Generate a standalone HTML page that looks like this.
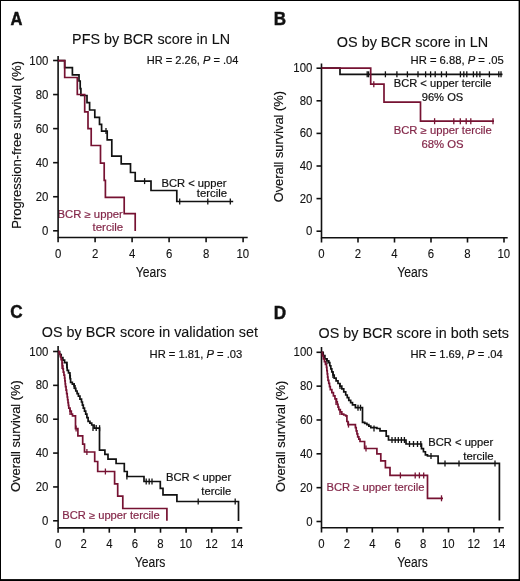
<!DOCTYPE html>
<html><head><meta charset="utf-8"><style>html,body{margin:0;padding:0;background:#fff;width:520px;height:581px;overflow:hidden}text{font-family:"Liberation Sans",sans-serif}</style></head>
<body>
<svg width="520" height="581" viewBox="0 0 520 581" style="display:block;filter:blur(0.3px)">
<rect x="0" y="0" width="520" height="581" fill="#fff"/>
<rect x="0" y="0" width="1.0" height="581" fill="#000"/><rect x="0" y="0" width="520" height="1.0" fill="#000"/><rect x="518.6" y="0" width="1.4" height="581" fill="#000"/><rect x="0" y="579.1" width="520" height="1.9" fill="#000"/>
<g font-family="Liberation Sans, sans-serif">
<text transform="translate(10.39,24.80) scale(0.9348,1)" font-size="17.7" fill="#111111" stroke="#111111" stroke-width="0.45"><tspan font-weight="bold">A</tspan></text>
<text transform="translate(273.86,24.70) scale(0.9635,1)" font-size="17.7" fill="#111111" stroke="#111111" stroke-width="0.45"><tspan font-weight="bold">B</tspan></text>
<text transform="translate(10.20,318.30) scale(0.9679,1)" font-size="17.7" fill="#111111" stroke="#111111" stroke-width="0.45"><tspan font-weight="bold">C</tspan></text>
<text transform="translate(273.75,318.50) scale(0.9674,1)" font-size="17.7" fill="#111111" stroke="#111111" stroke-width="0.45"><tspan font-weight="bold">D</tspan></text>
<text transform="translate(72.12,43.80) scale(0.9835,1)" font-size="14.6" fill="#111111" stroke="#111111" stroke-width="0.12"><tspan>PFS by BCR score in LN</tspan></text>
<text transform="translate(336.82,46.60) scale(0.9880,1)" font-size="14.6" fill="#111111" stroke="#111111" stroke-width="0.12"><tspan>OS by BCR score in LN</tspan></text>
<text transform="translate(41.82,336.90) scale(0.9835,1)" font-size="14.6" fill="#111111" stroke="#111111" stroke-width="0.12"><tspan>OS by BCR score in validation set</tspan></text>
<text transform="translate(318.62,337.70) scale(0.9821,1)" font-size="14.6" fill="#111111" stroke="#111111" stroke-width="0.12"><tspan>OS by BCR score in both sets</tspan></text>
<text transform="translate(146.79,64.10) scale(1.0145,1)" font-size="10.9" fill="#111111" stroke="#111111" stroke-width="0.18"><tspan>HR = 2.26, </tspan><tspan font-style="italic">P</tspan><tspan> = .04</tspan></text>
<text transform="translate(410.58,64.30) scale(1.0319,1)" font-size="10.9" fill="#111111" stroke="#111111" stroke-width="0.18"><tspan>HR = 6.88, </tspan><tspan font-style="italic">P</tspan><tspan> = .05</tspan></text>
<text transform="translate(149.58,358.00) scale(1.0276,1)" font-size="10.9" fill="#111111" stroke="#111111" stroke-width="0.18"><tspan>HR = 1.81, </tspan><tspan font-style="italic">P</tspan><tspan> = .03</tspan></text>
<text transform="translate(410.38,358.00) scale(1.0247,1)" font-size="10.9" fill="#111111" stroke="#111111" stroke-width="0.18"><tspan>HR = 1.69, </tspan><tspan font-style="italic">P</tspan><tspan> = .04</tspan></text>
<text transform="translate(161.48,186.90) scale(1.1189,1)" font-size="10.0" fill="#111111" stroke="#111111" stroke-width="0.18"><tspan>BCR &lt; upper</tspan></text>
<text transform="translate(196.73,197.00) scale(1.1345,1)" font-size="10.0" fill="#111111" stroke="#111111" stroke-width="0.18"><tspan>tercile</tspan></text>
<text transform="translate(57.47,217.70) scale(1.1331,1)" font-size="10.0" fill="#84284a" stroke="#84284a" stroke-width="0.18"><tspan>BCR ≥ upper</tspan></text>
<text transform="translate(92.53,231.00) scale(1.1498,1)" font-size="10.0" fill="#84284a" stroke="#84284a" stroke-width="0.18"><tspan>tercile</tspan></text>
<text transform="translate(393.68,87.30) scale(1.1173,1)" font-size="10.0" fill="#111111" stroke="#111111" stroke-width="0.18"><tspan>BCR &lt; upper tercile</tspan></text>
<text transform="translate(421.68,100.70) scale(1.1178,1)" font-size="10.0" fill="#111111" stroke="#111111" stroke-width="0.18"><tspan>96% OS</tspan></text>
<text transform="translate(393.67,134.10) scale(1.1278,1)" font-size="10.0" fill="#84284a" stroke="#84284a" stroke-width="0.18"><tspan>BCR ≥ upper tercile</tspan></text>
<text transform="translate(421.42,147.50) scale(1.1328,1)" font-size="10.0" fill="#84284a" stroke="#84284a" stroke-width="0.18"><tspan>68% OS</tspan></text>
<text transform="translate(165.98,481.30) scale(1.1259,1)" font-size="10.0" fill="#111111" stroke="#111111" stroke-width="0.18"><tspan>BCR &lt; upper</tspan></text>
<text transform="translate(201.33,495.10) scale(1.1230,1)" font-size="10.0" fill="#111111" stroke="#111111" stroke-width="0.18"><tspan>tercile</tspan></text>
<text transform="translate(62.18,519.40) scale(1.1196,1)" font-size="10.0" fill="#84284a" stroke="#84284a" stroke-width="0.18"><tspan>BCR ≥ upper tercile</tspan></text>
<text transform="translate(428.28,445.90) scale(1.1189,1)" font-size="10.0" fill="#111111" stroke="#111111" stroke-width="0.18"><tspan>BCR &lt; upper</tspan></text>
<text transform="translate(463.33,459.60) scale(1.1345,1)" font-size="10.0" fill="#111111" stroke="#111111" stroke-width="0.18"><tspan>tercile</tspan></text>
<text transform="translate(326.48,491.00) scale(1.1254,1)" font-size="10.0" fill="#84284a" stroke="#84284a" stroke-width="0.18"><tspan>BCR ≥ upper tercile</tspan></text>
<text transform="translate(135.63,277.00) scale(0.8399,1)" font-size="14.5" fill="#111111" stroke="#111111" stroke-width="0.12"><tspan>Years</tspan></text>
<text transform="translate(397.13,277.30) scale(0.8427,1)" font-size="14.5" fill="#111111" stroke="#111111" stroke-width="0.12"><tspan>Years</tspan></text>
<text transform="translate(134.73,567.30) scale(0.8371,1)" font-size="14.5" fill="#111111" stroke="#111111" stroke-width="0.12"><tspan>Years</tspan></text>
<text transform="translate(397.33,567.30) scale(0.8343,1)" font-size="14.5" fill="#111111" stroke="#111111" stroke-width="0.12"><tspan>Years</tspan></text>
<text transform="translate(20.60,228.67) rotate(-90) scale(0.9861,1)" font-size="13.2" fill="#111111" stroke="#111111" stroke-width="0.18"><tspan>Progression-free survival (%)</tspan></text>
<text transform="translate(283.40,202.31) rotate(-90) scale(0.9737,1)" font-size="13.2" fill="#111111" stroke="#111111" stroke-width="0.18"><tspan>Overall survival (%)</tspan></text>
<text transform="translate(20.40,491.91) rotate(-90) scale(0.9772,1)" font-size="13.2" fill="#111111" stroke="#111111" stroke-width="0.18"><tspan>Overall survival (%)</tspan></text>
<text transform="translate(284.70,492.01) rotate(-90) scale(0.9737,1)" font-size="13.2" fill="#111111" stroke="#111111" stroke-width="0.18"><tspan>Overall survival (%)</tspan></text>
<text transform="translate(41.99,234.80) scale(0.950,1)" font-size="12.0" fill="#111111" stroke="#111111" stroke-width="0.1">0</text>
<text transform="translate(35.65,200.74) scale(0.950,1)" font-size="12.0" fill="#111111" stroke="#111111" stroke-width="0.1">20</text>
<text transform="translate(35.65,166.68) scale(0.950,1)" font-size="12.0" fill="#111111" stroke="#111111" stroke-width="0.1">40</text>
<text transform="translate(35.65,132.62) scale(0.950,1)" font-size="12.0" fill="#111111" stroke="#111111" stroke-width="0.1">60</text>
<text transform="translate(35.65,98.56) scale(0.950,1)" font-size="12.0" fill="#111111" stroke="#111111" stroke-width="0.1">80</text>
<text transform="translate(29.32,64.50) scale(0.950,1)" font-size="12.0" fill="#111111" stroke="#111111" stroke-width="0.1">100</text>
<text transform="translate(54.92,257.60) scale(0.950,1)" font-size="12.0" fill="#111111" stroke="#111111" stroke-width="0.1">0</text>
<text transform="translate(91.92,257.60) scale(0.950,1)" font-size="12.0" fill="#111111" stroke="#111111" stroke-width="0.1">2</text>
<text transform="translate(128.96,257.60) scale(0.950,1)" font-size="12.0" fill="#111111" stroke="#111111" stroke-width="0.1">4</text>
<text transform="translate(165.88,257.60) scale(0.950,1)" font-size="12.0" fill="#111111" stroke="#111111" stroke-width="0.1">6</text>
<text transform="translate(202.92,257.60) scale(0.950,1)" font-size="12.0" fill="#111111" stroke="#111111" stroke-width="0.1">8</text>
<text transform="translate(236.54,257.60) scale(0.950,1)" font-size="12.0" fill="#111111" stroke="#111111" stroke-width="0.1">10</text>
<text transform="translate(305.99,235.20) scale(0.950,1)" font-size="12.0" fill="#111111" stroke="#111111" stroke-width="0.1">0</text>
<text transform="translate(299.65,202.60) scale(0.950,1)" font-size="12.0" fill="#111111" stroke="#111111" stroke-width="0.1">20</text>
<text transform="translate(299.65,170.00) scale(0.950,1)" font-size="12.0" fill="#111111" stroke="#111111" stroke-width="0.1">40</text>
<text transform="translate(299.65,137.40) scale(0.950,1)" font-size="12.0" fill="#111111" stroke="#111111" stroke-width="0.1">60</text>
<text transform="translate(299.65,104.80) scale(0.950,1)" font-size="12.0" fill="#111111" stroke="#111111" stroke-width="0.1">80</text>
<text transform="translate(293.32,72.20) scale(0.950,1)" font-size="12.0" fill="#111111" stroke="#111111" stroke-width="0.1">100</text>
<text transform="translate(318.32,257.60) scale(0.950,1)" font-size="12.0" fill="#111111" stroke="#111111" stroke-width="0.1">0</text>
<text transform="translate(354.82,257.60) scale(0.950,1)" font-size="12.0" fill="#111111" stroke="#111111" stroke-width="0.1">2</text>
<text transform="translate(391.36,257.60) scale(0.950,1)" font-size="12.0" fill="#111111" stroke="#111111" stroke-width="0.1">4</text>
<text transform="translate(427.78,257.60) scale(0.950,1)" font-size="12.0" fill="#111111" stroke="#111111" stroke-width="0.1">6</text>
<text transform="translate(464.32,257.60) scale(0.950,1)" font-size="12.0" fill="#111111" stroke="#111111" stroke-width="0.1">8</text>
<text transform="translate(497.44,257.60) scale(0.950,1)" font-size="12.0" fill="#111111" stroke="#111111" stroke-width="0.1">10</text>
<text transform="translate(41.99,524.80) scale(0.950,1)" font-size="12.0" fill="#111111" stroke="#111111" stroke-width="0.1">0</text>
<text transform="translate(35.65,490.94) scale(0.950,1)" font-size="12.0" fill="#111111" stroke="#111111" stroke-width="0.1">20</text>
<text transform="translate(35.65,457.08) scale(0.950,1)" font-size="12.0" fill="#111111" stroke="#111111" stroke-width="0.1">40</text>
<text transform="translate(35.65,423.22) scale(0.950,1)" font-size="12.0" fill="#111111" stroke="#111111" stroke-width="0.1">60</text>
<text transform="translate(35.65,389.36) scale(0.950,1)" font-size="12.0" fill="#111111" stroke="#111111" stroke-width="0.1">80</text>
<text transform="translate(29.32,355.50) scale(0.950,1)" font-size="12.0" fill="#111111" stroke="#111111" stroke-width="0.1">100</text>
<text transform="translate(54.92,547.60) scale(0.950,1)" font-size="12.0" fill="#111111" stroke="#111111" stroke-width="0.1">0</text>
<text transform="translate(80.52,547.60) scale(0.950,1)" font-size="12.0" fill="#111111" stroke="#111111" stroke-width="0.1">2</text>
<text transform="translate(106.16,547.60) scale(0.950,1)" font-size="12.0" fill="#111111" stroke="#111111" stroke-width="0.1">4</text>
<text transform="translate(131.68,547.60) scale(0.950,1)" font-size="12.0" fill="#111111" stroke="#111111" stroke-width="0.1">6</text>
<text transform="translate(157.32,547.60) scale(0.950,1)" font-size="12.0" fill="#111111" stroke="#111111" stroke-width="0.1">8</text>
<text transform="translate(179.54,547.60) scale(0.950,1)" font-size="12.0" fill="#111111" stroke="#111111" stroke-width="0.1">10</text>
<text transform="translate(205.21,547.60) scale(0.950,1)" font-size="12.0" fill="#111111" stroke="#111111" stroke-width="0.1">12</text>
<text transform="translate(230.69,547.60) scale(0.950,1)" font-size="12.0" fill="#111111" stroke="#111111" stroke-width="0.1">14</text>
<text transform="translate(306.29,525.50) scale(0.950,1)" font-size="12.0" fill="#111111" stroke="#111111" stroke-width="0.1">0</text>
<text transform="translate(299.95,491.66) scale(0.950,1)" font-size="12.0" fill="#111111" stroke="#111111" stroke-width="0.1">20</text>
<text transform="translate(299.95,457.82) scale(0.950,1)" font-size="12.0" fill="#111111" stroke="#111111" stroke-width="0.1">40</text>
<text transform="translate(299.95,423.98) scale(0.950,1)" font-size="12.0" fill="#111111" stroke="#111111" stroke-width="0.1">60</text>
<text transform="translate(299.95,390.14) scale(0.950,1)" font-size="12.0" fill="#111111" stroke="#111111" stroke-width="0.1">80</text>
<text transform="translate(293.62,356.30) scale(0.950,1)" font-size="12.0" fill="#111111" stroke="#111111" stroke-width="0.1">100</text>
<text transform="translate(318.32,547.60) scale(0.950,1)" font-size="12.0" fill="#111111" stroke="#111111" stroke-width="0.1">0</text>
<text transform="translate(343.72,547.60) scale(0.950,1)" font-size="12.0" fill="#111111" stroke="#111111" stroke-width="0.1">2</text>
<text transform="translate(369.16,547.60) scale(0.950,1)" font-size="12.0" fill="#111111" stroke="#111111" stroke-width="0.1">4</text>
<text transform="translate(394.48,547.60) scale(0.950,1)" font-size="12.0" fill="#111111" stroke="#111111" stroke-width="0.1">6</text>
<text transform="translate(419.92,547.60) scale(0.950,1)" font-size="12.0" fill="#111111" stroke="#111111" stroke-width="0.1">8</text>
<text transform="translate(441.94,547.60) scale(0.950,1)" font-size="12.0" fill="#111111" stroke="#111111" stroke-width="0.1">10</text>
<text transform="translate(467.41,547.60) scale(0.950,1)" font-size="12.0" fill="#111111" stroke="#111111" stroke-width="0.1">12</text>
<text transform="translate(492.69,547.60) scale(0.950,1)" font-size="12.0" fill="#111111" stroke="#111111" stroke-width="0.1">14</text>
</g>
<path d="M58.10 56.00 V237.50 H247.70" fill="none" stroke="#111111" stroke-width="1.6"/>
<path d="M53.10 230.80 H58.10" stroke="#111111" stroke-width="1.6"/>
<path d="M53.10 196.74 H58.10" stroke="#111111" stroke-width="1.6"/>
<path d="M53.10 162.68 H58.10" stroke="#111111" stroke-width="1.6"/>
<path d="M53.10 128.62 H58.10" stroke="#111111" stroke-width="1.6"/>
<path d="M53.10 94.56 H58.10" stroke="#111111" stroke-width="1.6"/>
<path d="M53.10 60.50 H58.10" stroke="#111111" stroke-width="1.6"/>
<path d="M58.10 237.50 V242.30" stroke="#111111" stroke-width="1.6"/>
<path d="M95.10 237.50 V242.30" stroke="#111111" stroke-width="1.6"/>
<path d="M132.10 237.50 V242.30" stroke="#111111" stroke-width="1.6"/>
<path d="M169.10 237.50 V242.30" stroke="#111111" stroke-width="1.6"/>
<path d="M206.10 237.50 V242.30" stroke="#111111" stroke-width="1.6"/>
<path d="M243.10 237.50 V242.30" stroke="#111111" stroke-width="1.6"/>
<path d="M321.50 63.50 V237.70 H507.70" fill="none" stroke="#111111" stroke-width="1.6"/>
<path d="M316.50 231.20 H321.50" stroke="#111111" stroke-width="1.6"/>
<path d="M316.50 198.60 H321.50" stroke="#111111" stroke-width="1.6"/>
<path d="M316.50 166.00 H321.50" stroke="#111111" stroke-width="1.6"/>
<path d="M316.50 133.40 H321.50" stroke="#111111" stroke-width="1.6"/>
<path d="M316.50 100.80 H321.50" stroke="#111111" stroke-width="1.6"/>
<path d="M316.50 68.20 H321.50" stroke="#111111" stroke-width="1.6"/>
<path d="M321.50 237.70 V242.50" stroke="#111111" stroke-width="1.6"/>
<path d="M358.00 237.70 V242.50" stroke="#111111" stroke-width="1.6"/>
<path d="M394.50 237.70 V242.50" stroke="#111111" stroke-width="1.6"/>
<path d="M431.00 237.70 V242.50" stroke="#111111" stroke-width="1.6"/>
<path d="M467.50 237.70 V242.50" stroke="#111111" stroke-width="1.6"/>
<path d="M504.00 237.70 V242.50" stroke="#111111" stroke-width="1.6"/>
<path d="M58.10 346.00 V527.90 H242.30" fill="none" stroke="#111111" stroke-width="1.6"/>
<path d="M53.10 520.80 H58.10" stroke="#111111" stroke-width="1.6"/>
<path d="M53.10 486.94 H58.10" stroke="#111111" stroke-width="1.6"/>
<path d="M53.10 453.08 H58.10" stroke="#111111" stroke-width="1.6"/>
<path d="M53.10 419.22 H58.10" stroke="#111111" stroke-width="1.6"/>
<path d="M53.10 385.36 H58.10" stroke="#111111" stroke-width="1.6"/>
<path d="M53.10 351.50 H58.10" stroke="#111111" stroke-width="1.6"/>
<path d="M58.10 527.90 V532.70" stroke="#111111" stroke-width="1.6"/>
<path d="M83.70 527.90 V532.70" stroke="#111111" stroke-width="1.6"/>
<path d="M109.30 527.90 V532.70" stroke="#111111" stroke-width="1.6"/>
<path d="M134.90 527.90 V532.70" stroke="#111111" stroke-width="1.6"/>
<path d="M160.50 527.90 V532.70" stroke="#111111" stroke-width="1.6"/>
<path d="M186.10 527.90 V532.70" stroke="#111111" stroke-width="1.6"/>
<path d="M211.70 527.90 V532.70" stroke="#111111" stroke-width="1.6"/>
<path d="M237.30 527.90 V532.70" stroke="#111111" stroke-width="1.6"/>
<path d="M321.50 347.00 V527.70 H503.80" fill="none" stroke="#111111" stroke-width="1.6"/>
<path d="M316.50 521.50 H321.50" stroke="#111111" stroke-width="1.6"/>
<path d="M316.50 487.66 H321.50" stroke="#111111" stroke-width="1.6"/>
<path d="M316.50 453.82 H321.50" stroke="#111111" stroke-width="1.6"/>
<path d="M316.50 419.98 H321.50" stroke="#111111" stroke-width="1.6"/>
<path d="M316.50 386.14 H321.50" stroke="#111111" stroke-width="1.6"/>
<path d="M316.50 352.30 H321.50" stroke="#111111" stroke-width="1.6"/>
<path d="M321.50 527.70 V532.50" stroke="#111111" stroke-width="1.6"/>
<path d="M346.90 527.70 V532.50" stroke="#111111" stroke-width="1.6"/>
<path d="M372.30 527.70 V532.50" stroke="#111111" stroke-width="1.6"/>
<path d="M397.70 527.70 V532.50" stroke="#111111" stroke-width="1.6"/>
<path d="M423.10 527.70 V532.50" stroke="#111111" stroke-width="1.6"/>
<path d="M448.50 527.70 V532.50" stroke="#111111" stroke-width="1.6"/>
<path d="M473.90 527.70 V532.50" stroke="#111111" stroke-width="1.6"/>
<path d="M499.30 527.70 V532.50" stroke="#111111" stroke-width="1.6"/>
<path d="M58.10 60.60H64.70V67.60H72.40V74.80H79.00V81.00H80.20V88.60H80.90V95.50H87.00V102.70H89.60V110.00H94.80V117.40H99.50V124.30H101.60V131.10H107.20V139.80H111.80V156.20H121.20V163.90H130.50V172.50H135.20V181.10H151.00V190.50H176.80V201.50H233.20" fill="none" stroke="#111111" stroke-width="1.7"/>
<path d="M106.00 128.10V134.10" stroke="#111111" stroke-width="1.3"/><path d="M144.60 178.10V184.10" stroke="#111111" stroke-width="1.3"/><path d="M179.70 198.50V204.50" stroke="#111111" stroke-width="1.3"/><path d="M207.80 198.50V204.50" stroke="#111111" stroke-width="1.3"/><path d="M230.30 198.50V204.50" stroke="#111111" stroke-width="1.3"/>
<path d="M58.10 60.60H64.70V77.50H77.30V94.50H84.70V111.80H88.00V128.70H91.20V145.50H100.50V163.20H104.20V180.40H105.40V197.40H124.20V213.60H135.20V231.00" fill="none" stroke="#761232" stroke-width="1.7"/>
<path d="M321.50 68.20H340.00V74.30H502.50" fill="none" stroke="#111111" stroke-width="1.7"/>
<path d="M367.20 71.30V77.30" stroke="#111111" stroke-width="1.3"/><path d="M368.60 71.30V77.30" stroke="#111111" stroke-width="1.3"/><path d="M385.40 71.30V77.30" stroke="#111111" stroke-width="1.3"/><path d="M396.90 71.30V77.30" stroke="#111111" stroke-width="1.3"/><path d="M407.40 71.30V77.30" stroke="#111111" stroke-width="1.3"/><path d="M418.00 71.30V77.30" stroke="#111111" stroke-width="1.3"/><path d="M425.60 71.30V77.30" stroke="#111111" stroke-width="1.3"/><path d="M430.60 71.30V77.30" stroke="#111111" stroke-width="1.3"/><path d="M435.20 71.30V77.30" stroke="#111111" stroke-width="1.3"/><path d="M441.50 71.30V77.30" stroke="#111111" stroke-width="1.3"/><path d="M446.40 71.30V77.30" stroke="#111111" stroke-width="1.3"/><path d="M460.40 71.30V77.30" stroke="#111111" stroke-width="1.3"/><path d="M463.80 71.30V77.30" stroke="#111111" stroke-width="1.3"/><path d="M466.80 71.30V77.30" stroke="#111111" stroke-width="1.3"/><path d="M473.40 71.30V77.30" stroke="#111111" stroke-width="1.3"/><path d="M476.80 71.30V77.30" stroke="#111111" stroke-width="1.3"/><path d="M479.90 71.30V77.30" stroke="#111111" stroke-width="1.3"/><path d="M489.40 71.30V77.30" stroke="#111111" stroke-width="1.3"/><path d="M498.80 71.30V77.30" stroke="#111111" stroke-width="1.3"/><path d="M501.00 71.30V77.30" stroke="#111111" stroke-width="1.3"/>
<path d="M321.50 68.20H370.70V84.20H384.00V102.20H420.50V121.20H494.00" fill="none" stroke="#761232" stroke-width="1.7"/>
<path d="M373.80 81.20V87.20" stroke="#761232" stroke-width="1.3"/><path d="M434.60 118.20V124.20" stroke="#761232" stroke-width="1.3"/><path d="M453.80 118.20V124.20" stroke="#761232" stroke-width="1.3"/><path d="M460.30 118.20V124.20" stroke="#761232" stroke-width="1.3"/><path d="M466.20 118.20V124.20" stroke="#761232" stroke-width="1.3"/><path d="M470.80 118.20V124.20" stroke="#761232" stroke-width="1.3"/><path d="M493.00 118.20V124.20" stroke="#761232" stroke-width="1.3"/>
<path d="M58.10 351.50H59.65 V354.50H61.20 V357.50H62.90 V360.05H64.60 V362.60H66.80 V364.80H67.00 V367.60H67.20 V370.40H68.50 V372.95H69.80 V375.50H70.20 V378.95H70.60 V382.40H72.35 V384.15H74.10 V385.90H74.95 V388.45H75.80 V391.00H77.10 V393.60H78.40 V396.20H79.95 V399.10H81.50 V402.00H82.40 V405.05H83.30 V408.10H84.50 V411.10H85.70 V414.10H86.90 V417.70H88.10 V421.30H89.90 V423.15H91.70 V425.00H94.10 V428.20H99.50V450.10H104.90V454.40H108.00V459.20H116.10V463.50H124.30V471.50H127.20V476.50H144.00V481.50H160.30V488.30H163.00V494.80H176.90V501.50H238.50V521.00" fill="none" stroke="#111111" stroke-width="1.7"/>
<path d="M66.80 361.80V367.80" stroke="#111111" stroke-width="1.3"/><path d="M69.80 372.50V378.50" stroke="#111111" stroke-width="1.3"/><path d="M74.10 382.90V388.90" stroke="#111111" stroke-width="1.3"/><path d="M93.00 424.90V430.90" stroke="#111111" stroke-width="1.3"/><path d="M96.20 425.10V431.10" stroke="#111111" stroke-width="1.3"/><path d="M99.60 425.20V431.20" stroke="#111111" stroke-width="1.3"/><path d="M126.90 473.50V479.50" stroke="#111111" stroke-width="1.3"/><path d="M146.20 478.50V484.50" stroke="#111111" stroke-width="1.3"/><path d="M149.20 478.50V484.50" stroke="#111111" stroke-width="1.3"/><path d="M152.00 478.50V484.50" stroke="#111111" stroke-width="1.3"/><path d="M198.20 498.50V504.50" stroke="#111111" stroke-width="1.3"/><path d="M235.20 498.50V504.50" stroke="#111111" stroke-width="1.3"/>
<path d="M58.10 351.50H59.20 V354.05H60.30 V356.60H61.15 V359.60H62.00 V362.60H62.43 V365.77H62.87 V368.93H63.30 V372.10H63.95 V375.10H64.60 V378.10H64.90 V380.97H65.20 V383.83H65.50 V386.70H66.07 V390.13H66.63 V393.57H67.20 V397.00H67.60 V399.77H68.00 V402.55H68.40 V405.33H68.80 V408.10H70.05 V411.10H71.30 V414.10H72.50 V415.90H75.50V428.60H77.90V435.80H82.70V444.20H84.50V452.00H94.70V461.50H97.70V471.50H114.60V483.80H117.70V496.20H122.80V508.50H166.90V520.80" fill="none" stroke="#761232" stroke-width="1.7"/>
<path d="M62.00 363.00V369.00" stroke="#761232" stroke-width="1.3"/><path d="M70.00 409.00V415.00" stroke="#761232" stroke-width="1.3"/><path d="M76.10 425.60V431.60" stroke="#761232" stroke-width="1.3"/><path d="M86.90 449.00V455.00" stroke="#761232" stroke-width="1.3"/><path d="M105.40 468.50V474.50" stroke="#761232" stroke-width="1.3"/>
<path d="M321.50 352.40H323.20 V355.60H324.90 V358.80H326.85 V360.75H328.80 V362.70H329.80 V365.77H330.80 V368.83H331.80 V371.90H333.00 V375.00H334.20 V378.10H336.10 V380.80H338.00 V383.50H339.90 V386.15H341.80 V388.80H343.75 V391.90H345.70 V395.00H347.25 V397.70H348.80 V400.40H350.65 V402.60H352.50 V404.80H355.40 V407.70H362.50V422.30H364.70 V423.45H366.90 V424.60H368.85 V426.15H370.80 V427.70H376.90V428.50H380.00V430.80H386.20V436.20H388.50V440.00H406.00V444.00H421.50V448.60H423.45 V451.75H425.40 V454.90H427.50 V456.00H438.10V463.40H499.40V520.50" fill="none" stroke="#111111" stroke-width="1.7"/>
<path d="M327.00 358.00V364.00" stroke="#111111" stroke-width="1.3"/><path d="M333.00 372.00V378.00" stroke="#111111" stroke-width="1.3"/><path d="M340.00 383.00V389.00" stroke="#111111" stroke-width="1.3"/><path d="M358.00 404.70V410.70" stroke="#111111" stroke-width="1.3"/><path d="M360.50 404.70V410.70" stroke="#111111" stroke-width="1.3"/><path d="M374.00 425.50V431.50" stroke="#111111" stroke-width="1.3"/><path d="M392.00 437.00V443.00" stroke="#111111" stroke-width="1.3"/><path d="M395.20 437.00V443.00" stroke="#111111" stroke-width="1.3"/><path d="M398.30 437.00V443.00" stroke="#111111" stroke-width="1.3"/><path d="M401.40 437.00V443.00" stroke="#111111" stroke-width="1.3"/><path d="M404.40 437.00V443.00" stroke="#111111" stroke-width="1.3"/><path d="M409.50 441.00V447.00" stroke="#111111" stroke-width="1.3"/><path d="M413.50 441.00V447.00" stroke="#111111" stroke-width="1.3"/><path d="M417.50 441.00V447.00" stroke="#111111" stroke-width="1.3"/><path d="M420.80 441.00V447.00" stroke="#111111" stroke-width="1.3"/><path d="M431.00 453.00V459.00" stroke="#111111" stroke-width="1.3"/><path d="M445.00 460.40V466.40" stroke="#111111" stroke-width="1.3"/><path d="M459.00 460.40V466.40" stroke="#111111" stroke-width="1.3"/><path d="M495.00 460.40V466.40" stroke="#111111" stroke-width="1.3"/>
<path d="M321.50 352.40H322.45 V355.60H323.40 V358.80H324.43 V361.63H325.47 V364.47H326.50 V367.30H326.88 V370.57H327.25 V373.85H327.62 V377.12H328.00 V380.40H328.77 V383.47H329.53 V386.53H330.30 V389.60H331.85 V392.70H333.40 V395.80H334.95 V398.85H336.50 V401.90H337.27 V404.47H338.03 V407.03H338.80 V409.60H340.30 V411.90H341.80 V414.20H343.75 V415.00H345.70 V415.80H346.90V421.50H348.00V424.60H354.60H355.40 V427.70H356.20 V430.80H356.95 V433.85H357.70 V436.90H358.85 V439.20H360.00 V441.50H364.60V448.50H376.90V453.80H380.80V460.80H385.40V467.70H390.00V475.40H427.50V498.30H443.00V498.30" fill="none" stroke="#761232" stroke-width="1.7"/>
<path d="M336.00 399.00V405.00" stroke="#761232" stroke-width="1.3"/><path d="M340.00 409.00V415.00" stroke="#761232" stroke-width="1.3"/><path d="M348.50 421.60V427.60" stroke="#761232" stroke-width="1.3"/><path d="M366.00 445.50V451.50" stroke="#761232" stroke-width="1.3"/><path d="M400.40 472.40V478.40" stroke="#761232" stroke-width="1.3"/><path d="M415.20 472.40V478.40" stroke="#761232" stroke-width="1.3"/><path d="M419.40 472.40V478.40" stroke="#761232" stroke-width="1.3"/><path d="M423.70 472.40V478.40" stroke="#761232" stroke-width="1.3"/><path d="M441.50 495.30V501.30" stroke="#761232" stroke-width="1.3"/>
</svg>
</body></html>
